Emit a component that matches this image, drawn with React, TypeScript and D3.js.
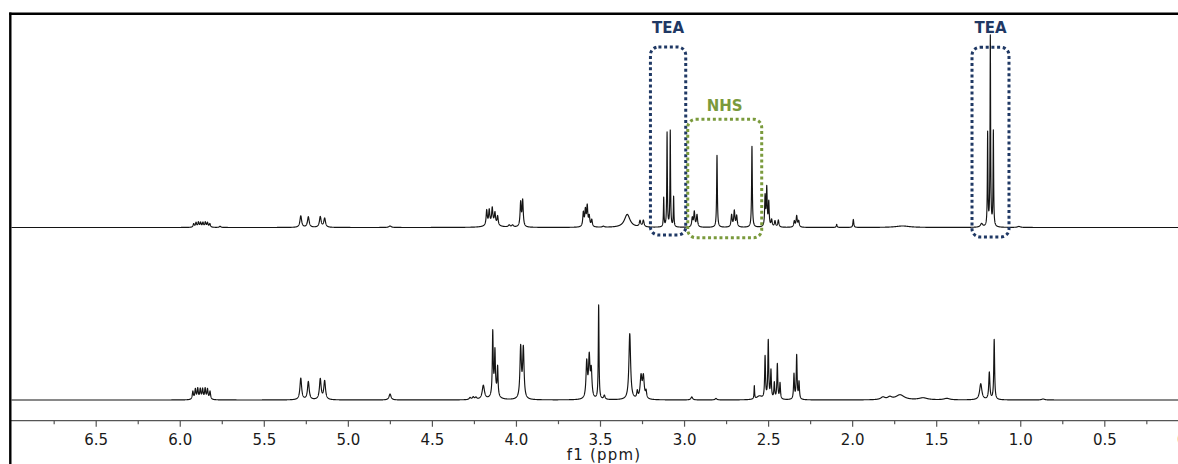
import React, { useEffect, useRef } from "react";
import * as d3 from "d3";

// ---------- axis data ----------
const xDomain = [7.0, 0.0];
const majorTicks = [6.5, 6.0, 5.5, 5.0, 4.5, 4.0, 3.5, 3.0, 2.5, 2.0, 1.5, 1.0, 0.5, 0.0];
const minorTicks = [6.75, 6.25, 5.75, 5.25, 4.75, 4.25, 3.75, 3.25, 2.75, 2.25, 1.75, 1.25, 0.75, 0.25];
const axisTitle = "f1 (ppm)";

// ---------- top spectrum (peak list: shift ppm, intensity a.u., half width ppm) ----------
const topPpm = [
  5.917, 5.903, 5.889, 5.876, 5.862, 5.848, 5.835, 5.821,
  5.76,
  5.28, 5.235, 5.164, 5.138,
  4.749,
  4.174, 4.159, 4.141, 4.125, 4.109, 4.14,
  4.04, 4.02,
  3.972, 3.96,
  3.599, 3.587, 3.576, 3.564, 3.549,
  3.48,
  3.338,
  3.262, 3.242,
  3.121, 3.101, 3.082, 3.062,
  2.951, 2.939, 2.923,
  2.804,
  2.717, 2.701, 2.687,
  2.596,
  2.518, 2.508, 2.496,
  2.479, 2.459, 2.439,
  2.344, 2.33, 2.318,
  2.092,
  1.993,
  1.7,
  1.23,
  1.194, 1.178, 1.16,
  1.008,
];
const topInt = [
  3.5, 4.5, 4.8, 4.5, 4.5, 4.8, 4.5, 3.5,
  1.2,
  11.5, 10.5, 10.5, 9,
  1.5,
  15, 14, 15, 11, 9, 4,
  2, 2,
  24, 26,
  14, 16, 20, 10, 7,
  1,
  13,
  6, 6.5,
  29, 94, 96, 30,
  9, 15, 12,
  72,
  12, 16, 11,
  81,
  30, 38, 24,
  7, 6, 7,
  6, 11, 6,
  3,
  8,
  1.5,
  3.5,
  93, 190, 95,
  1,
];
const topHw = [
  0.004, 0.004, 0.004, 0.004, 0.004, 0.004, 0.004, 0.004,
  0.005,
  0.006, 0.006, 0.006, 0.006,
  0.008,
  0.004, 0.004, 0.004, 0.004, 0.004, 0.03,
  0.006, 0.006,
  0.004, 0.004,
  0.004, 0.004, 0.004, 0.004, 0.004,
  0.006,
  0.02,
  0.005, 0.005,
  0.002, 0.002, 0.002, 0.002,
  0.004, 0.004, 0.004,
  0.0025,
  0.004, 0.004, 0.004,
  0.0025,
  0.003, 0.003, 0.003,
  0.004, 0.004, 0.004,
  0.004, 0.004, 0.004,
  0.003,
  0.003,
  0.05,
  0.008,
  0.002, 0.002, 0.002,
  0.01,
];

// ---------- bottom spectrum ----------
const botPpm = [
  5.922, 5.907, 5.893, 5.878, 5.864, 5.849, 5.835, 5.82,
  5.28, 5.235, 5.164, 5.138,
  4.749,
  4.273, 4.254, 4.238,
  4.194,
  4.138, 4.125, 4.109, 4.125,
  3.972, 3.956,
  3.579, 3.564, 3.552,
  3.508,
  3.474,
  3.323,
  3.278, 3.256, 3.242, 3.226,
  2.954,
  2.81,
  2.582, 2.552,
  2.518, 2.499, 2.483, 2.463, 2.445, 2.429,
  2.346, 2.33, 2.316,
  1.817, 1.776,
  1.715,
  1.578,
  1.437,
  1.235, 1.184, 1.155,
  0.864,
];
const botInt = [
  8, 10, 10.5, 10, 10, 10.5, 10, 8,
  21.5, 18, 20.5, 18.5,
  6,
  2, 2.5, 2,
  14,
  62, 38, 28, 10,
  51, 50,
  36, 40, 27,
  94,
  4,
  66,
  7, 22, 22, 7,
  3,
  1.5,
  13, 3.5,
  42, 58, 28, 16, 35, 16,
  25, 44, 17,
  2.5, 2.5,
  5,
  2,
  1.5,
  16, 27, 60,
  1,
];
const botHw = [
  0.004, 0.004, 0.004, 0.004, 0.004, 0.004, 0.004, 0.004,
  0.006, 0.006, 0.006, 0.006,
  0.007,
  0.006, 0.006, 0.006,
  0.008,
  0.003, 0.003, 0.003, 0.015,
  0.005, 0.005,
  0.005, 0.005, 0.005,
  0.0025,
  0.005,
  0.006,
  0.004, 0.006, 0.006, 0.004,
  0.006,
  0.006,
  0.002, 0.02,
  0.003, 0.003, 0.003, 0.003, 0.003, 0.003,
  0.003, 0.003, 0.003,
  0.015, 0.015,
  0.03,
  0.03,
  0.02,
  0.008, 0.004, 0.003,
  0.01,
];

// ---------- annotations ----------
const annotLabels = ["TEA", "NHS", "TEA"];
const annotColors = ["#1F3864", "#7A9A3C", "#1F3864"];
const annotPpmFrom = [3.2, 2.978, 1.287];
const annotPpmTo = [2.99, 2.538, 1.067];
const annotTop = [180.5, 108.2, 180.2];
const annotBottom = [-7.5, -10.2, -9.5];
const annotLabelAt = [194.5, 116.5, 194.5];

function buildTrace(ppm: number[], inten: number[], hw: number[]) {
  const grid = d3.range(7.06, -0.08, -0.0005);
  const pts = grid.concat(ppm).sort((a, b) => b - a);
  return pts.map((p) => {
    let v = 0;
    for (let i = 0; i < ppm.length; i++) {
      const t = (p - ppm[i]) / hw[i];
      v += inten[i] / (1 + t * t);
    }
    return [p, v] as [number, number];
  });
}

const W = 1178;
const H = 464;
const x = d3.scaleLinear().domain(xDomain).range([11.65, 1188.35]);
const yTop = d3.scaleLinear().domain([0, 200]).range([227.5, 27.5]);
const yBot = d3.scaleLinear().domain([0, 200]).range([400, 200]);
const axisY = 420.7;

export default function App() {
  const axisRef = useRef<SVGGElement>(null);
  const minorRef = useRef<SVGGElement>(null);

  const topData = buildTrace(topPpm, topInt, topHw);
  const botData = buildTrace(botPpm, botInt, botHw);
  const lineTop = d3.line<[number, number]>().x((d) => x(d[0])).y((d) => yTop(d[1]));
  const lineBot = d3.line<[number, number]>().x((d) => x(d[0])).y((d) => yBot(d[1]));

  useEffect(() => {
    const g = d3.select(axisRef.current!);
    g.call(
      d3.axisBottom(x).tickValues(majorTicks).tickSize(6).tickSizeOuter(0).tickFormat(d3.format(".1f") as any)
    );
    g.select(".domain").remove();
    g.selectAll(".tick line").attr("stroke", "#555").attr("stroke-width", 1.2);
    g.selectAll(".tick text")
      .attr("y", 13.8)
      .attr("fill", "#1a1a1a")
      .style("font-family", "'DejaVu Sans', Verdana, sans-serif")
      .style("font-size", "15px");
    const m = d3.select(minorRef.current!);
    m.call(d3.axisBottom(x).tickValues(minorTicks).tickSize(3.5).tickSizeOuter(0).tickFormat(() => ""));
    m.select(".domain").remove();
    m.selectAll(".tick line").attr("stroke", "#555").attr("stroke-width", 1.2);
  }, []);

  return (
    <svg
      width={W}
      height={H}
      style={{ position: "absolute", left: 0, top: 0, background: "#fff" }}
    >
      <defs>
        <clipPath id="plotClip">
          <rect x={11.5} y={14} width={W} height={H} />
        </clipPath>
      </defs>
      <rect x={0} y={0} width={W} height={H} fill="#fff" />
      <g clipPath="url(#plotClip)">
        <path d={lineTop(topData) || ""} fill="none" stroke="#141414" strokeWidth={1.15} strokeLinejoin="round" />
        <path d={lineBot(botData) || ""} fill="none" stroke="#141414" strokeWidth={1.15} strokeLinejoin="round" />
      </g>
      {annotLabels.map((lab, i) => {
        const x0 = x(annotPpmFrom[i]);
        const x1 = x(annotPpmTo[i]);
        const y0 = yTop(annotTop[i]);
        const y1 = yTop(annotBottom[i]);
        return (
          <g key={i}>
            <rect
              x={x0}
              y={y0}
              width={x1 - x0}
              height={y1 - y0}
              rx={8}
              ry={8}
              fill="none"
              stroke={annotColors[i]}
              strokeWidth={3}
              strokeDasharray="3 2.7"
            />
            <text
              x={(x0 + x1) / 2}
              y={yTop(annotLabelAt[i])}
              textAnchor="middle"
              fill={annotColors[i]}
              style={{ fontFamily: "'DejaVu Sans', sans-serif", fontWeight: 700, fontSize: 15 }}
            >
              {lab}
            </text>
          </g>
        );
      })}
      <line x1={10} x2={W} y1={axisY} y2={axisY} stroke="#555" strokeWidth={1.3} />
      <g ref={minorRef} transform={`translate(0,${axisY})`} />
      <g ref={axisRef} transform={`translate(0,${axisY})`} />
      <text
        x={604}
        y={460}
        textAnchor="middle"
        fill="#1a1a1a"
        style={{ fontFamily: "'DejaVu Sans', Verdana, sans-serif", fontSize: 15, letterSpacing: 1.2 }}
      >
        {axisTitle}
      </text>
      <line x1={9.2} x2={W} y1={13.8} y2={13.8} stroke="#000" strokeWidth={2.4} />
      <line x1={10.3} x2={10.3} y1={12.6} y2={H} stroke="#000" strokeWidth={2.4} />
    </svg>
  );
}
